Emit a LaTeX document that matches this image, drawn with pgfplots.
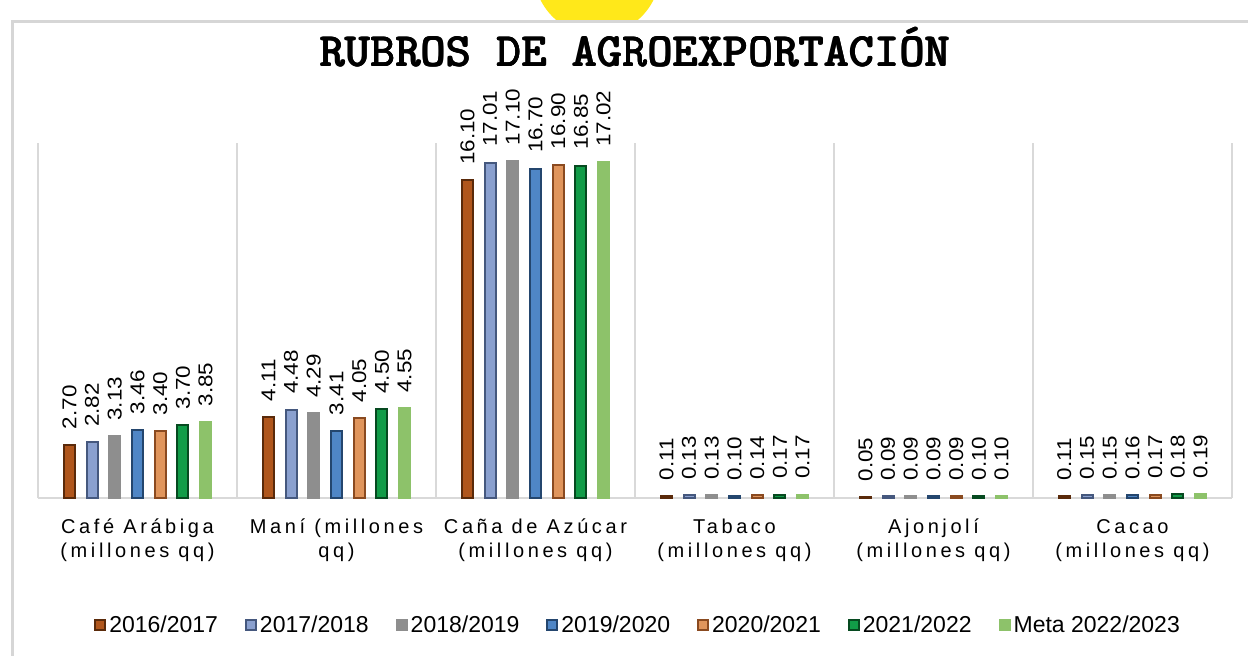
\documentclass[border=0pt]{standalone}
\usepackage{fontspec}
\setmainfont{Liberation Sans}
\newfontfamily\catfont[LetterSpace=18]{Liberation Sans}
\usepackage{pgfplots}
\pgfplotsset{compat=1.18}
\definecolor{cA}{HTML}{B0561C}
\definecolor{eA}{HTML}{5A2A0A}
\definecolor{cB}{HTML}{8AA0CF}
\definecolor{eB}{HTML}{45587E}
\definecolor{cC}{HTML}{8E8E8E}
\definecolor{cD}{HTML}{4F86C6}
\definecolor{eD}{HTML}{24466E}
\definecolor{cE}{HTML}{E0955C}
\definecolor{eE}{HTML}{8A4A20}
\definecolor{cF}{HTML}{119C48}
\definecolor{eF}{HTML}{064A20}
\definecolor{cG}{HTML}{8DC26A}
\definecolor{gridgray}{HTML}{D9D9D9}
\definecolor{framegray}{HTML}{D6D6D6}
\definecolor{deco}{HTML}{FFE81A}
\pgfplotsset{
  bev/.style 2 args={fill=#1, draw=#2, line width=2pt},
  flat/.style={fill=#1, draw=#1, line width=2pt}}
\begin{document}
\begin{tikzpicture}[x=1pt,y=1pt]
\path[use as bounding box] (0,0) rectangle (1248,656);
\begin{scope}
\clip (0,634) rectangle (1248,656);
\fill[deco] (597,684) circle (63);
\end{scope}
\draw[framegray, line width=3pt] (12,0) -- (12,634) -- (1248,634);
\foreach \dx in {-0.4,0,0.4}
  \node[anchor=base, font=\ttfamily\bfseries\fontsize{48}{56}\selectfont] at (635+\dx,589) {RUBROS DE AGROEXPORTACIÓN};
\begin{axis}[
  at={(137.5pt,158pt)}, anchor=origin,
  scale only axis, width=1194pt, height=355pt,
  ybar=11.7pt, bar width=11pt,
  xmin=-0.5, xmax=5.5, ymin=0, ymax=18,
  xtick={0,...,5},
  xticklabels={{\rule{0pt}{19pt}Café Arábiga\\(millones qq)},{\rule{0pt}{19pt}Maní (millones\\qq)},{\rule{0pt}{19pt}Caña de Azúcar\\(millones qq)},{\rule{0pt}{19pt}Tabaco\\(millones qq)},{\rule{0pt}{19pt}Ajonjolí\\(millones qq)},{\rule{0pt}{19pt}Cacao\\(millones qq)}},
  xticklabel style={align=center, font=\catfont\fontsize{20}{23.5}\selectfont, yshift=-13pt},
  minor xtick={-0.5,0.5,...,5.5},
  xminorgrids, minor grid style={draw=gridgray, line width=1.5pt},
  ytick=\empty,
  major tick length=0pt, minor tick length=0pt,
  axis x line*=bottom, axis y line=none,
  x axis line style={draw=gridgray, line width=1.5pt, -},
  /pgf/number format/assume math mode=true,
  nodes near coords={\pgfmathprintnumber[fixed, fixed zerofill, precision=2]{\pgfplotspointmeta}},
  every node near coord/.append style={font=\fontsize{20}{24}\selectfont, rotate=90, anchor=west, xscale=1.12, inner xsep=13pt, inner ysep=0pt, text=black},
  legend style={at={(0.503,-0.358)}, anchor=center, draw=none, fill=none,
    font=\fontsize{23}{27}\selectfont, legend columns=7,
    /tikz/every even column/.append style={column sep=24pt},
    nodes={inner sep=3pt}},
  legend image code/.code={\draw[#1] (1pt,-5pt) rectangle (11pt,5pt);},
]
\addplot[bev={cA}{eA}] coordinates {(0,2.70) (1,4.11) (2,16.10) (3,0.11) (4,0.05) (5,0.11)};
\addplot[bev={cB}{eB}] coordinates {(0,2.82) (1,4.48) (2,17.01) (3,0.13) (4,0.09) (5,0.15)};
\addplot[flat=cC] coordinates {(0,3.13) (1,4.29) (2,17.10) (3,0.13) (4,0.09) (5,0.15)};
\addplot[bev={cD}{eD}] coordinates {(0,3.46) (1,3.41) (2,16.70) (3,0.10) (4,0.09) (5,0.16)};
\addplot[bev={cE}{eE}] coordinates {(0,3.40) (1,4.05) (2,16.90) (3,0.14) (4,0.09) (5,0.17)};
\addplot[bev={cF}{eF}] coordinates {(0,3.70) (1,4.50) (2,16.85) (3,0.17) (4,0.10) (5,0.18)};
\addplot[flat=cG] coordinates {(0,3.85) (1,4.55) (2,17.02) (3,0.17) (4,0.10) (5,0.19)};
\legend{2016/2017,2017/2018,2018/2019,2019/2020,2020/2021,2021/2022,Meta 2022/2023}
\end{axis}
\end{tikzpicture}
\end{document}
